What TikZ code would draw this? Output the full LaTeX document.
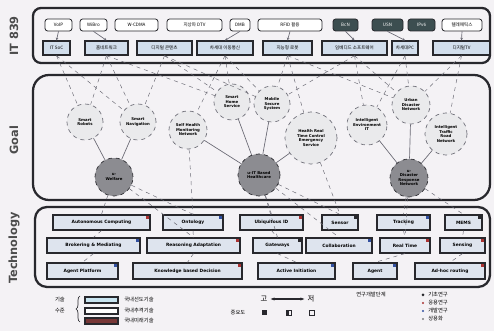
\documentclass[tikz,border=0pt]{standalone}
\usepackage{fontspec}
\setmainfont{DejaVu Sans}
\newfontfamily\kr{Noto Sans CJK KR}
\usetikzlibrary{arrows.meta,calc,decorations.pathreplacing}
\definecolor{bgc}{RGB}{244,242,245}
\definecolor{framec}{RGB}{40,40,45}
\definecolor{darkbox}{RGB}{60,78,80}
\definecolor{rowtwo}{RGB}{210,222,236}
\definecolor{circf}{RGB}{234,234,236}
\definecolor{goalf}{RGB}{140,140,145}
\definecolor{techf}{RGB}{222,228,238}
\definecolor{linkc}{RGB}{105,105,115}
\definecolor{redm}{RGB}{170,50,50}
\definecolor{bluem}{RGB}{50,80,160}
\definecolor{legred}{RGB}{120,55,55}
\definecolor{legblue}{RGB}{200,228,240}
\tikzset{
 frame/.style={draw=framec, line width=1.7pt},
 itbox/.style={draw=framec, fill=white, rounded corners=2pt, line width=0.6pt, inner sep=0pt, font=\kr\fontsize{3.4}{4}\selectfont},
 itdark/.style={itbox, fill=darkbox, text=white},
 rowbox/.style={draw=framec, fill=rowtwo, line width=1pt, inner sep=0pt, font=\kr\fontsize{3.4}{4}\selectfont},
 gcirc/.style={circle, draw=linkc, dashed, fill=circf, line width=0.5pt, inner sep=0pt, align=center, font=\bfseries\fontsize{2.9}{3.4}\selectfont},
 bigcirc/.style={gcirc, fill=goalf, draw=framec},
 techbox/.style={draw=framec, fill=techf, line width=0.9pt, inner sep=0pt, font=\bfseries\fontsize{3.3}{3.8}\selectfont},
 dlink/.style={draw=linkc, dashed, line width=0.35pt},
 slink/.style={draw=linkc, line width=0.5pt},
 sidelab/.style={font=\bfseries\fontsize{8.5}{9}\selectfont, text=black!70, rotate=90},
 leg/.style={font=\kr\fontsize{4}{4.5}\selectfont, inner sep=0pt},
 legbig/.style={font=\kr\fontsize{5.5}{6}\selectfont, inner sep=0pt},
}
\newcommand\mkbox[7]{%
 \pgfmathsetmacro\bxcx{(#3+#5)/2}\pgfmathsetmacro\bxcy{(#4+#6)/2}%
 \pgfmathsetmacro\bxw{(#5-#3)*0.75}\pgfmathsetmacro\bxh{(#6-#4)*0.75}%
 \node[#1, minimum width=\bxw pt, minimum height=\bxh pt] (#2) at (\bxcx,\bxcy) {#7};}
\newcommand\mkcirc[6]{%
 \pgfmathsetmacro\crd{#5*1.5}%
 \node[#1, minimum size=\crd pt] (#2) at (#3,#4) {#6};}
\newcommand\mktech[7]{%
 \mkbox{techbox}{#1}{#2}{#3}{#4}{#5}{#6}%
 \fill[#7] ($(#1.north east)+(-5,2)$) rectangle +(3,3);}
\begin{document}
\begin{tikzpicture}[x=0.75pt,y=-0.75pt]
\fill[bgc] (0,0) rectangle (494,331);
\useasboundingbox (0,0) rectangle (494,331);

% side labels
\node[sidelab] (lit) at (14,36) {IT 839};
\node[sidelab] (lgoal) at (14,140) {Goal};
\node[sidelab] (ltech) at (14,248) {Technology};

% frames
\draw[frame, rounded corners=6pt] (33,8) rectangle (490,63);
\draw[frame, rounded corners=12pt] (33,75) rectangle (490,200);
\draw[frame, rounded corners=9pt] (35,207) rectangle (490,287);

% IT 839 row 1
\mkbox{itbox}{r1a}{45}{19}{72}{31}{VoIP}
\mkbox{itbox}{r1b}{80}{19}{107}{31}{WiBro}
\mkbox{itbox}{r1c}{115}{19}{158}{31}{W-CDMA}
\mkbox{itbox}{r1d}{167}{19}{222}{31}{지상파 DTV}
\mkbox{itbox}{r1e}{230}{19}{250}{31}{DMB}
\mkbox{itbox}{r1f}{258}{19}{322}{31}{RFID 활용}
\mkbox{itdark}{r1g}{333}{19}{358}{31}{BcN}
\mkbox{itdark}{r1h}{372}{19}{403}{31}{USN}
\mkbox{itdark}{r1i}{408}{19}{435}{31}{IPv6}
\mkbox{itbox}{r1j}{442}{19}{482}{31}{텔레매틱스}
% IT 839 row 2
\mkbox{rowbox}{r2a}{43}{41}{70}{55}{IT SoC}
\mkbox{rowbox}{r2b}{85}{41}{128}{55}{홈네트워크}
\mkbox{rowbox}{r2c}{137}{41}{192}{55}{디지털 콘텐츠}
\mkbox{rowbox}{r2d}{197}{41}{253}{55}{차세대 이동통신}
\mkbox{rowbox}{r2e}{263}{41}{312}{55}{지능형 로봇}
\mkbox{rowbox}{r2f}{322}{41}{387}{55}{임베디드 소프트웨어}
\mkbox{rowbox}{r2g}{392}{41}{418}{55}{차세대PC}
\mkbox{rowbox}{r2h}{433}{41}{490}{55}{디지털TV}

\foreach \a/\b in {r1a/r2a, r1b/r2b, r1e/r2d, r1f/r2e, r1g/r2f, r1h/r2g, r1j/r2h}
  \draw[slink, -{Stealth[length=2pt,width=2pt]}] (\a.south) -- (\b.north);

% goal circles
\mkcirc{gcirc}{c1}{85}{122}{18}{Smart\\Robots}
\mkcirc{gcirc}{c2}{138}{122}{18}{Smart\\Navigation}
\mkcirc{gcirc}{c3}{188}{130}{19}{Self Health\\Monitoring\\Network}
\mkcirc{gcirc}{c4}{232}{102}{18}{Smart\\Home\\Service}
\mkcirc{gcirc}{c5}{272}{104}{18}{Mobile\\Secure\\System}
\mkcirc{gcirc}{c6}{311}{138}{26}{Health Real\\Time Control\\Emergency\\Service}
\mkcirc{gcirc}{c7}{367}{125}{20}{Intelligent\\Environment\\IT}
\mkcirc{gcirc}{c8}{411}{105}{19}{Urban\\Disaster\\Network}
\mkcirc{gcirc}{c9}{446}{134}{21}{Intelligent\\Traffic\\Road\\Network}
\mkcirc{bigcirc}{g1}{114}{177}{19}{u-\\Welfare}
\mkcirc{bigcirc}{g2}{259}{175}{21}{u-IT Based\\Healthcare}
\mkcirc{bigcirc}{g3}{409}{178}{19}{u-\\Disaster\\Response\\Network}

% solid goal links
\foreach \a/\b in {c1/g1, c2/g1, c3/g2, c4/g2, c5/g2, c6/g2, c7/g3, c8/g3, c9/g3}
  \draw[slink] (\a) -- (\b);

% dashed links IT839 -> goals
\foreach \a/\b in {r2a/c1, r2a/c2, r2b/c1, r2b/c2, r2b/c4, r2c/c2, r2c/c4, r2c/c5, r2d/c4, r2d/c5, r2d/c3, r2e/c5, r2e/c6, r2e/c8, r2f/c7, r2f/c8, r2f/c5, r2g/c8, r2g/c7, r2h/c8, r2h/c9}
  \draw[dlink] (\a.south) -- (\b);

% technology
\mktech{t1a}{53}{215}{150}{230}{Autonomous Computing}{redm}
\mktech{t1b}{163}{215}{223}{230}{Ontology}{bluem}
\mktech{t1c}{240}{215}{303}{230}{Ubiquitous ID}{redm}
\mktech{t1d}{322}{215}{358}{230}{Sensor}{framec}
\mktech{t1e}{377}{215}{430}{230}{Tracking}{bluem}
\mktech{t1f}{445}{215}{482}{230}{MEMS}{framec}
\mktech{t2a}{47}{238}{140}{253}{Brokering \& Mediating}{bluem}
\mktech{t2b}{147}{238}{240}{253}{Reasoning Adaptation}{redm}
\mktech{t2c}{253}{238}{302}{253}{Gateways}{framec}
\mktech{t2d}{306}{238}{372}{253}{Collaboration}{bluem}
\mktech{t2e}{380}{238}{430}{253}{Real Time}{redm}
\mktech{t2f}{440}{238}{485}{253}{Sensing}{redm}
\mktech{t3a}{47}{263}{118}{279}{Agent Platform}{bluem}
\mktech{t3b}{133}{263}{242}{279}{Knowledge based Decision}{redm}
\mktech{t3c}{258}{263}{335}{279}{Active Initiation}{bluem}
\mktech{t3d}{353}{263}{397}{279}{Agent}{bluem}
\mktech{t3e}{415}{263}{485}{279}{Ad-hoc routing}{redm}

\foreach \a/\b in {g1/t1a, g1/t1b, g1/t2b, g2/t1c, g2/t1d, g2/t2c, g2/t2d, g3/t1e, g3/t1f, g3/t2e, c3/t1b, c6/t1d}
  \draw[dlink] (\a) -- (\b.north);
\foreach \a/\b in {t1a/t2a, t2a/t3a, t1b/t2b, t2b/t3b, t1c/t2c, t2c/t3c, t1e/t2e, t2e/t3d, t1f/t2f, t2f/t3e}
  \draw[dlink] (\a.south) -- (\b.north);

% legend: technology level
\node[leg] (lga) at (60,300) {기술};
\node[leg] (lgb) at (60,311) {수준};
\coordinate (brt) at (80,296);
\coordinate (brb) at (80,322);
\draw[framec, line width=0.5pt, decorate, decoration={brace, amplitude=3pt}] (brb) -- (brt);
\mkbox{draw=framec, fill=legblue, line width=0.8pt, inner sep=0pt}{lb1}{85}{297}{118}{303}{}
\mkbox{draw=framec, fill=white, line width=0.8pt, inner sep=0pt}{lb2}{85}{308}{118}{314}{}
\mkbox{draw=framec, fill=legred, line width=0.8pt, inner sep=0pt}{lb3}{85}{318}{118}{324}{}
\node[leg, anchor=west] (lt1) at (124,300) {국내선도기술};
\node[leg, anchor=west] (lt2) at (124,311) {국내추격기술};
\node[leg, anchor=west] (lt3) at (124,321) {국내미래기술};

% legend: importance
\node[legbig] (hi) at (264,299) {고};
\node[legbig] (lo) at (311,299) {저};
\draw[framec, line width=1pt, {Stealth[length=3pt]}-{Stealth[length=3pt]}] (hi.east) ++(3,0) coordinate (ha) -- ($(lo.west)+(-3,0)$) coordinate (hb);
\node[leg] (imp) at (238,313) {중요도};
\coordinate (s1) at (264,313);
\coordinate (s2) at (289,313);
\coordinate (s3) at (312,313);
\fill[framec] ($(s1)+(-2.5,-2.5)$) rectangle ($(s1)+(2.5,2.5)$);
\draw[framec, line width=0.5pt] ($(s2)+(-2.5,-2.5)$) rectangle ($(s2)+(2.5,2.5)$);
\fill[framec] ($(s2)+(-2.5,-2.5)$) rectangle ($(s2)+(0,2.5)$);
\draw[framec, line width=0.5pt] ($(s3)+(-2.5,-2.5)$) rectangle ($(s3)+(2.5,2.5)$);

% legend: R&D stage
\node[leg, anchor=west] (rd) at (356,295) {연구개발단계};
\node[leg, anchor=west] (rd1) at (428,295) {기초연구};
\node[leg, anchor=west] (rd2) at (428,303) {응용연구};
\node[leg, anchor=west] (rd3) at (428,311) {개발연구};
\node[leg, anchor=west] (rd4) at (428,319) {상용화};
\fill[framec] (423,295) circle (1.5);
\fill[redm] (423,303) circle (1.2);
\fill[bluem] (423,311) circle (1.2);
\fill[gray] (423,319) circle (1.2);
\end{tikzpicture}
\end{document}
